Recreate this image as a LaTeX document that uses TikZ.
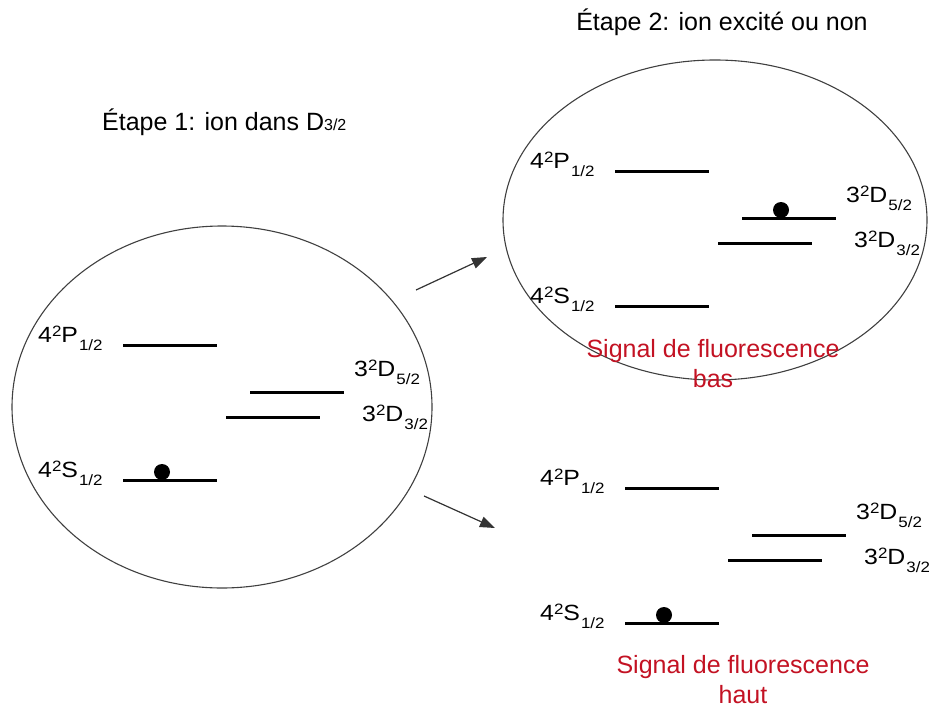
\documentclass[tikz,border=0pt]{standalone}
\usepackage{fontspec}
\setmainfont{Liberation Sans}
\newfontfamily\etroit[FakeStretch=1.13]{Liberation Sans}
\usetikzlibrary{shapes.geometric,arrows.meta}
\definecolor{sigred}{RGB}{195,18,35}

\newcommand{\petit}{\fontsize{15}{15}\selectfont}
\newcommand{\etat}[4]{#1\raisebox{6pt}{\petit #2}#3\kern1pt\raisebox{-8pt}{\petit #4}}

\begin{document}
\begin{tikzpicture}[x=1pt,y=-1pt,
  lvl/.style={line width=3pt},
  ion/.style={circle,fill,inner sep=0pt,minimum size=16pt},
  piege/.style={ellipse,draw=black!75,line width=1.1pt,inner sep=0pt},
  lbl/.style={font=\etroit\fontsize{22}{26}\selectfont,inner sep=0pt},
  titre/.style={font=\fontsize{25}{28}\selectfont,inner sep=0pt},
  signal/.style={font=\fontsize{25}{30}\selectfont,text=sigred,align=center},
  fleche/.style={draw=black!80,line width=1.2pt,-{Triangle[length=15pt,width=11pt]}}]
  \useasboundingbox (0,0) rectangle (929,709);

  \node[piege,minimum width=420pt,minimum height=362pt] (piege1) at (222,407) {};
  \node[piege,minimum width=424pt,minimum height=320pt] (piege2) at (715,220) {};

  \node[titre,anchor=base west] (titre1) at (102,130) {Étape 1: ion dans D{\fontsize{16}{16}\selectfont 3/2}};
  \node[titre] (titre2) at (722,22) {Étape 2: ion excité ou non};

  \foreach \n/\ox/\oy/\ix/\iy in {1/123/345/39/127, 2/615/171/166/39, 3/625/488/39/127}{
    \begin{scope}[shift={(\ox,\oy)}]
      \draw[lvl] (0,0) coordinate (P\n) -- (94,0);
      \draw[lvl] (127,47) coordinate (Dc\n) -- (221,47);
      \draw[lvl] (103,72) coordinate (Dt\n) -- (197,72);
      \draw[lvl] (0,135) coordinate (S\n) -- (94,135);
      \node[ion] (ion\n) at (\ix,\iy) {};
      \node[lbl,anchor=base west] (lP\n) at (-85,-3) {\etat{4}{2}{P}{1/2}};
      \node[lbl,anchor=base west] (lDc\n) at (231,31) {\etat{3}{2}{D}{5/2}};
      \node[lbl,anchor=base west] (lDt\n) at (239,76) {\etat{3}{2}{D}{3/2}};
      \node[lbl,anchor=base west] (lS\n) at (-85,132) {\etat{4}{2}{S}{1/2}};
    \end{scope}
  }

  \node[signal] (sig2) at (713,364) {Signal de fluorescence\\bas};
  \node[signal] (sig3) at (743,680) {Signal de fluorescence\\haut};

  \coordinate (a1) at (416,290);
  \coordinate (a2) at (487,257);
  \coordinate (b1) at (424,496);
  \coordinate (b2) at (495,528);
  \draw[fleche] (a1) -- (a2);
  \draw[fleche] (b1) -- (b2);
\end{tikzpicture}
\end{document}
